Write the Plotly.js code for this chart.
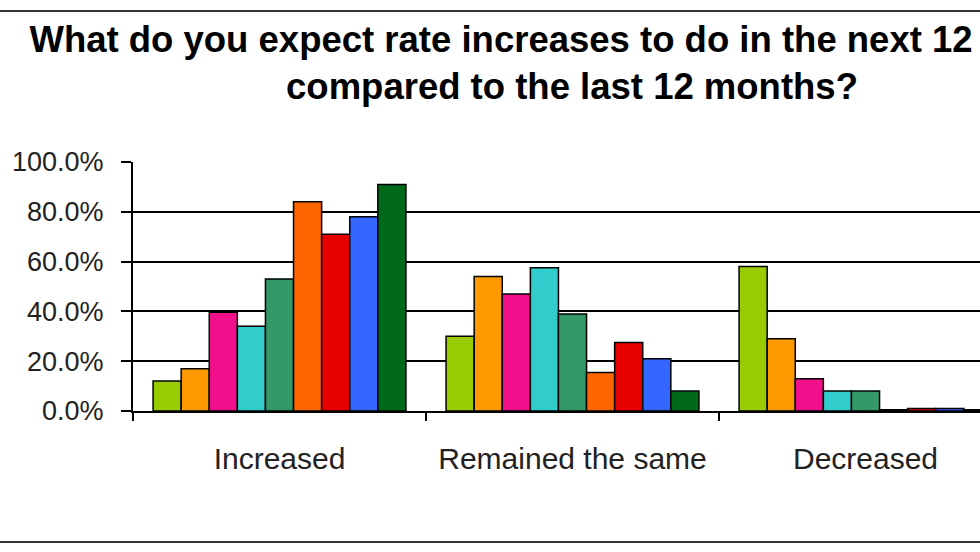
<!DOCTYPE html>
<html>
<head>
<meta charset="utf-8">
<script src="https://cdn.plot.ly/plotly-3.0.1.min.js"></script>
<style>
  html, body { margin: 0; padding: 0; background: #fff; overflow: hidden; }
  #chart { width: 980px; height: 552px; }
</style>
</head>
<body>
<div id="chart"></div>
<script>
// Categories (x axis)
const categories = ["Increased", "Remained the same", "Decreased"];

// Series (legend not visible in the reference, names are generic)
const seriesNames = ["Series 1", "Series 2", "Series 3", "Series 4", "Series 5",
                     "Series 6", "Series 7", "Series 8", "Series 9"];

// Values per category, one entry per series (percent)
const increased = [12, 17, 39.7, 34, 53, 84, 71, 78, 91];
const remainedSame = [30, 54, 47, 57.5, 39, 15.5, 27.5, 21, 8];
const decreased = [58, 29, 13, 8, 8, 0.5, 1, 1, 0.5];

// Y tick values and labels
const yTicks = [0, 20, 40, 60, 80, 100];
const yTickLabels = ["0.0%", "20.0%", "40.0%", "60.0%", "80.0%", "100.0%"];

const colors = ["#99cc00", "#ff9900", "#f0108c", "#33cccc", "#339966",
                "#ff6600", "#e60000", "#3366ff", "#006a1a"];

const traces = seriesNames.map((name, i) => ({
  type: "bar",
  name: name,
  x: categories,
  y: [increased[i], remainedSame[i], decreased[i]],
  marker: { color: colors[i], line: { color: "#000", width: 1.5 } },
  hoverinfo: "x+y+name"
}));

const W = 980, H = 552;
const mL = 133, mR = 0, mT = 162, mB = 141;
const plotW = W - mL - mR, plotH = H - mT - mB;
const catW = 293; // pixel width of one category band
const xMax = -0.5 + plotW / catW;

function px2paperX(px) { return (px - mL) / plotW; }
function px2paperY(py) { return (H - mB - py) / plotH; }

const layout = {
  width: W, height: H,
  margin: { l: mL, r: mR, t: mT, b: mB },
  paper_bgcolor: "#fff",
  plot_bgcolor: "#fff",
  showlegend: false,
  barmode: "group",
  bargap: 0.137,
  bargroupgap: 0,
  font: { family: "Arial, 'Liberation Sans', sans-serif", color: "#222" },
  title: {
    text: "What do you expect rate increases to do in the next 12 months<br>compared to the last 12 months?",
    font: { family: "Arial, 'Liberation Sans', sans-serif", size: 36.5, weight: "bold", color: "#000" },
    xref: "container", x: 572 / W, xanchor: "center",
    yref: "container", y: 1 - 52 / H, yanchor: "top"
  },
  xaxis: {
    type: "category",
    range: [-0.5, xMax],
    showgrid: false,
    showline: true, linecolor: "#000", linewidth: 2,
    ticks: "outside", tickson: "boundaries", ticklen: 8, tickwidth: 2, tickcolor: "#000",
    tickfont: { size: 30, color: "#222" },
    ticklabelstandoff: 20,
    fixedrange: true
  },
  yaxis: {
    range: [0, 100],
    tickmode: "array",
    tickvals: yTicks,
    ticktext: yTickLabels,
    showgrid: true, gridcolor: "#000", gridwidth: 2,
    zeroline: false,
    showline: true, linecolor: "#000", linewidth: 2,
    ticks: "outside", ticklen: 10, tickwidth: 2, tickcolor: "#000",
    tickfont: { size: 27, color: "#222" },
    ticklabelstandoff: 12,
    fixedrange: true
  },
  shapes: [
    { type: "line", xref: "paper", yref: "paper",
      x0: px2paperX(0), x1: px2paperX(W), y0: px2paperY(11), y1: px2paperY(11),
      line: { color: "#333", width: 2 } },
    { type: "line", xref: "paper", yref: "paper",
      x0: px2paperX(0), x1: px2paperX(W), y0: px2paperY(542), y1: px2paperY(542),
      line: { color: "#333", width: 2 } }
  ]
};

Plotly.newPlot("chart", traces, layout, { displayModeBar: false, staticPlot: true });
</script>
</body>
</html>
